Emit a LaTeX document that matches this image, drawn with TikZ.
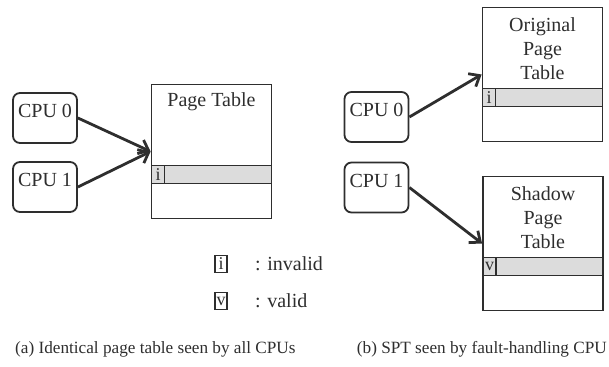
\documentclass[tikz,border=0pt]{standalone}
\usepackage{fontspec}
\setmainfont{Liberation Serif}
\usetikzlibrary{positioning,arrows.meta,calc}
\definecolor{inkgray}{HTML}{2E2E2E}
\definecolor{rowgray}{HTML}{DCDCDC}
\tikzset{
  cpu/.style={draw=inkgray, line width=1.8pt, rounded corners=7pt,
    minimum width=64pt, minimum height=50pt, inner sep=0pt,
    text height=13pt, text depth=14pt},
  ptable/.style={draw=inkgray, line width=1.8pt, minimum width=120pt,
    minimum height=134pt, inner sep=0pt},
  entry/.style={draw=inkgray, fill=rowgray, line width=1.8pt,
    minimum width=120pt, minimum height=18pt, inner sep=0pt},
  flag/.style={draw=inkgray, line width=1.8pt, minimum width=13pt,
    minimum height=18pt, inner sep=0pt, font=\fontsize{18}{18}\selectfont},
  title/.style={align=center, inner sep=0pt},
  link/.style={->, draw=inkgray, line width=2.8pt},
  caption/.style={inner sep=0pt, font=\fontsize{17.2}{20}\selectfont}
}

\begin{document}
\begin{tikzpicture}[x=1pt, y=-1pt, >={Straight Barb[length=9pt,width=15pt]},
    font=\fontsize{20}{24}\selectfont, text=inkgray]
    \useasboundingbox (0,0) rectangle (609,366);

    % (a) one page table shared by both CPUs
    \node[cpu] (lcpu0) at (45,118) {CPU 0};
    \node[cpu] (lcpu1) at (45,187) {CPU 1};
    \node[ptable] (pt) at (211.5,151.5) {};
    \node[title] (pttitle) at ($(pt.north)+(0,18)$) {Page Table};
    \node[entry, below=81pt of pt.north, anchor=north] (ptrow) {};
    \node[flag, anchor=north west] (ptbit) at (ptrow.north west) {i};

    \draw[link] (lcpu0.east) -- (pt.west);
    \draw[link] (lcpu1.east) -- (pt.west);

    % legend
    \node[flag, minimum width=12pt, minimum height=17pt] (keyi) at (221,264) {i};
    \node[inner sep=0pt, right=27pt of keyi] (keyitext) {: invalid};
    \node[flag, minimum width=12pt, minimum height=17pt] (keyv) at (221,301) {v};
    \node[inner sep=0pt, right=27pt of keyv] (keyvtext) {: valid};

    % (b) original and shadow page tables
    \node[cpu] (rcpu0) at (376.5,117) {CPU 0};
    \node[cpu] (rcpu1) at (376.5,187.5) {CPU 1};
    \node[ptable] (opt) at (542.5,74.5) {};
    \node[title] (opttitle) at ($(opt.north)+(0,42)$) {Original\\Page\\Table};
    \node[entry, below=81pt of opt.north, anchor=north] (optrow) {};
    \node[flag, anchor=north west] (optbit) at (optrow.north west) {i};

    \node[ptable] (spt) at (543,243.5) {};
    \node[title] (spttitle) at ($(spt.north)+(0,42)$) {Shadow\\Page\\Table};
    \node[entry, below=81pt of spt.north, anchor=north] (sptrow) {};
    \node[flag, anchor=north west] (sptbit) at (sptrow.north west) {v};

    \draw[link] (rcpu0.east) -- (opt.west);
    \draw[link] (rcpu1.east) -- (spt.west);

    % captions
    \node[caption, anchor=west] (capa) at (15,349) {(a) Identical page table seen by all CPUs};
    \node[caption, anchor=east] (capb) at (607,349) {(b) SPT seen by fault-handling CPU};
\end{tikzpicture}
\end{document}
